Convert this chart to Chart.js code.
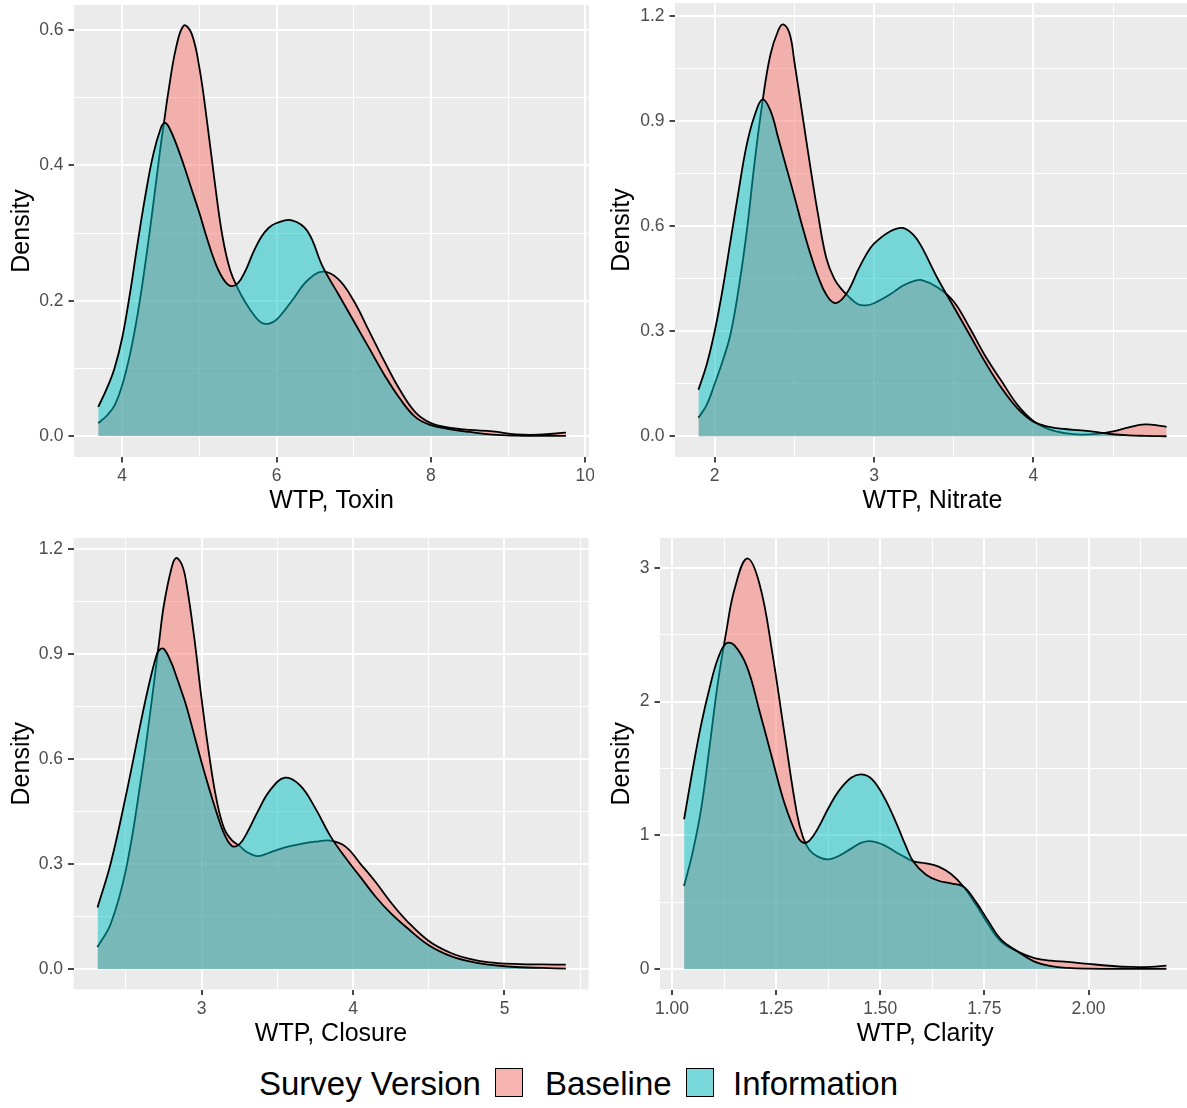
<!DOCTYPE html>
<html>
<head>
<meta charset="utf-8">
<script src="https://cdn.jsdelivr.net/npm/chart.js@4.4.1/dist/chart.umd.min.js"></script>
<style>
html,body{margin:0;padding:0;background:#fff;width:1187px;height:1108px;overflow:hidden;position:relative;font-family:"Liberation Sans",Arial,sans-serif}
canvas{position:absolute;display:block}
.lg{position:absolute;font-size:33px;line-height:33px;color:#000;white-space:nowrap}
.box{position:absolute;box-sizing:border-box;width:28px;height:29px;border:1.6px solid #000}
</style>
</head>
<body>
<canvas id="c1" width="594" height="525" style="left:0;top:0"></canvas>
<canvas id="c2" width="596" height="525" style="left:594px;top:0"></canvas>
<canvas id="c3" width="594" height="525" style="left:0;top:525px"></canvas>
<canvas id="c4" width="597" height="525" style="left:594px;top:525px"></canvas>

<div class="lg" style="left:259px;top:1066.5px">Survey Version</div>
<div class="box" style="left:495px;top:1068px;background:linear-gradient(rgba(248,118,109,0.5),rgba(248,118,109,0.5)),#F2F2F2"></div>
<div class="lg" style="left:545px;top:1066.5px">Baseline</div>
<div class="box" style="left:686px;top:1068px;background:linear-gradient(rgba(0,191,196,0.5),rgba(0,191,196,0.5)),#F2F2F2"></div>
<div class="lg" style="left:733px;top:1066.5px">Information</div>

<script>
// ---------- Toxin ----------
const toxinX = [3.69,3.8,3.9,4.0,4.1,4.2,4.3,4.4,4.5,4.55,4.6,4.7,4.8,4.9,5.0,5.1,5.2,5.3,5.4,5.5,5.6,5.7,5.8,5.9,6.0,6.2,6.4,6.6,6.8,7.0,7.2,7.4,7.6,7.8,8.0,8.2,8.5,8.8,9.1,9.4,9.75];
const toxinBaseline = [0.019,0.03,0.045,0.075,0.12,0.18,0.255,0.34,0.43,0.47,0.51,0.575,0.607,0.595,0.545,0.465,0.375,0.295,0.245,0.218,0.197,0.18,0.168,0.166,0.172,0.2,0.23,0.243,0.232,0.2,0.155,0.11,0.068,0.035,0.019,0.013,0.009,0.007,0.0025,0.002,0.005];
const toxinInformation = [0.043,0.07,0.1,0.145,0.21,0.285,0.355,0.415,0.455,0.463,0.458,0.432,0.4,0.365,0.33,0.292,0.258,0.234,0.222,0.226,0.245,0.272,0.294,0.308,0.315,0.319,0.303,0.25,0.21,0.17,0.13,0.09,0.055,0.028,0.016,0.011,0.006,0.002,0.0005,0.0002,0.0001];
const toxinXTicks = [4,6,8,10];
const toxinXTickLabels = ['4','6','8','10'];
const toxinXMinor = [5,7,9];
const toxinYTicks = [0,0.2,0.4,0.6];
const toxinYTickLabels = ['0.0','0.2','0.4','0.6'];
const toxinYMinor = [0.1,0.3,0.5];

// ---------- Nitrate ----------
const nitrateX = [1.898,1.95,2.0,2.05,2.1,2.15,2.2,2.25,2.3,2.35,2.4,2.43,2.47,2.5,2.55,2.6,2.65,2.7,2.75,2.8,2.85,2.9,2.95,3.0,3.1,3.18,3.25,3.3,3.4,3.5,3.6,3.7,3.8,3.9,4.0,4.1,4.2,4.3,4.4,4.5,4.6,4.7,4.8,4.836];
const nitrateBaseline = [0.053,0.09,0.15,0.215,0.293,0.42,0.58,0.78,0.955,1.09,1.16,1.176,1.15,1.07,0.92,0.77,0.63,0.51,0.45,0.418,0.395,0.377,0.374,0.38,0.405,0.43,0.443,0.446,0.425,0.385,0.31,0.228,0.158,0.09,0.044,0.02,0.009,0.005,0.007,0.014,0.026,0.034,0.03,0.027];
const nitrateInformation = [0.133,0.205,0.3,0.42,0.56,0.7,0.83,0.915,0.962,0.93,0.85,0.8,0.735,0.685,0.6,0.522,0.455,0.405,0.381,0.392,0.425,0.475,0.518,0.55,0.585,0.595,0.574,0.54,0.45,0.37,0.29,0.21,0.138,0.08,0.042,0.027,0.021,0.017,0.012,0.006,0.003,0.0015,0.0005,0.0003];
const nitrateXTicks = [2,3,4];
const nitrateXTickLabels = ['2','3','4'];
const nitrateXMinor = [2.5,3.5,4.5];
const nitrateYTicks = [0,0.3,0.6,0.9,1.2];
const nitrateYTickLabels = ['0.0','0.3','0.6','0.9','1.2'];
const nitrateYMinor = [0.15,0.45,0.75,1.05];

// ---------- Closure ----------
const closureX = [2.312,2.4,2.5,2.6,2.65,2.7,2.72,2.75,2.8,2.83,2.87,2.9,2.95,3.0,3.05,3.1,3.15,3.2,3.25,3.3,3.37,3.45,3.55,3.65,3.75,3.85,3.95,4.05,4.15,4.25,4.35,4.5,4.65,4.8,4.95,5.1,5.25,5.405];
const closureBaseline = [0.063,0.13,0.285,0.545,0.7,0.87,0.94,1.04,1.145,1.175,1.155,1.1,0.95,0.77,0.61,0.48,0.4,0.368,0.352,0.334,0.323,0.333,0.348,0.357,0.364,0.367,0.35,0.3,0.248,0.19,0.14,0.08,0.045,0.026,0.017,0.014,0.013,0.0125];
const closureInformation = [0.176,0.304,0.497,0.71,0.81,0.895,0.912,0.915,0.875,0.84,0.79,0.75,0.67,0.59,0.515,0.445,0.385,0.352,0.357,0.39,0.45,0.51,0.547,0.525,0.46,0.38,0.318,0.262,0.206,0.159,0.12,0.068,0.036,0.019,0.01,0.005,0.003,0.001];
const closureXTicks = [3,4,5];
const closureXTickLabels = ['3','4','5'];
const closureXMinor = [2.5,3.5,4.5,5.5];
const closureYTicks = [0,0.3,0.6,0.9,1.2];
const closureYTickLabels = ['0.0','0.3','0.6','0.9','1.2'];
const closureYMinor = [0.15,0.45,0.75,1.05];

// ---------- Clarity ----------
const clarityX = [1.029,1.05,1.07,1.09,1.11,1.13,1.15,1.18,1.21,1.24,1.27,1.30,1.315,1.33,1.35,1.375,1.40,1.43,1.455,1.48,1.51,1.54,1.56,1.58,1.61,1.64,1.67,1.70,1.73,1.76,1.79,1.83,1.87,1.91,1.95,2.0,2.05,2.1,2.15,2.187];
const clarityBaseline = [0.62,0.88,1.2,1.66,2.14,2.52,2.84,3.07,2.88,2.38,1.76,1.16,0.98,0.89,0.84,0.82,0.845,0.9,0.945,0.955,0.925,0.87,0.835,0.805,0.79,0.765,0.71,0.615,0.48,0.33,0.205,0.13,0.082,0.062,0.053,0.038,0.024,0.015,0.016,0.025];
const clarityInformation = [1.12,1.5,1.83,2.1,2.32,2.435,2.42,2.26,1.93,1.58,1.24,1.0,0.945,0.96,1.05,1.2,1.33,1.43,1.456,1.42,1.28,1.08,0.93,0.8,0.705,0.66,0.64,0.615,0.5,0.355,0.22,0.13,0.055,0.022,0.008,0.002,0.001,0.0005,0.0003,0.0002];
const clarityXTicks = [1.0,1.25,1.5,1.75,2.0];
const clarityXTickLabels = ['1.00','1.25','1.50','1.75','2.00'];
const clarityXMinor = [1.125,1.375,1.625,1.875,2.125];
const clarityYTicks = [0,1,2,3];
const clarityYTickLabels = ['0','1','2','3'];
const clarityYMinor = [0.5,1.5,2.5];

const seriesNames = ['Baseline','Information'];
const FONT = '"Liberation Sans", Arial, sans-serif';

const panelBg = {
  id: 'panelBg',
  beforeDraw(chart) {
    const {ctx, chartArea: a} = chart;
    ctx.save();
    ctx.fillStyle = '#EBEBEB';
    ctx.fillRect(a.left, a.top, a.right - a.left, a.bottom - a.top);
    ctx.restore();
  }
};

function axis(major, labels, minor, min, max, title, isX, size, titlePad) {
  const all = major.concat(minor).sort((a, b) => a - b);
  const isMajor = v => major.some(m => Math.abs(m - v) < 1e-9);
  return {
    type: 'linear',
    min: min, max: max,
    afterBuildTicks: s => { s.ticks = all.map(v => ({value: v})); },
    afterFit: s => {
      if (isX) s.height = size; else s.width = size;
      s.paddingTop = 0; s.paddingBottom = 0; s.paddingLeft = 0; s.paddingRight = 0;
    },
    ticks: {
      autoSkip: false, maxRotation: 0, minRotation: 0,
      padding: isX ? 3.5 : 5,
      color: '#4D4D4D',
      font: {family: FONT, size: 17.5},
      callback: v => { const i = major.findIndex(m => Math.abs(m - v) < 1e-9); return i >= 0 ? labels[i] : ''; }
    },
    grid: {
      color: '#FFFFFF',
      lineWidth: c => (c.tick && isMajor(c.tick.value)) ? 2 : 1,
      tickColor: c => (c.tick && isMajor(c.tick.value)) ? '#333333' : 'rgba(0,0,0,0)',
      tickLength: 5.5,
      tickWidth: 1.8,
      drawTicks: true
    },
    border: {display: false},
    title: {
      display: true, text: title, color: '#000000',
      font: {family: FONT, size: 25},
      padding: isX ? {top: 0, bottom: titlePad} : {top: titlePad, bottom: 0}
    }
  };
}

function makePanel(id, p) {
  const ds = (name, ys, color, order) => ({
    label: name,
    data: p.x.map((x, i) => ({x: x, y: ys[i]})),
    borderColor: '#000000',
    borderWidth: 1.8,
    backgroundColor: color,
    fill: 'origin',
    pointRadius: 0,
    pointHoverRadius: 0,
    tension: 0.4,
    order: order
  });
  new Chart(document.getElementById(id), {
    type: 'line',
    data: {
      datasets: [
        ds(seriesNames[0], p.base, 'rgba(248,118,109,0.5)', 2),
        ds(seriesNames[1], p.info, 'rgba(0,191,196,0.5)', 1)
      ]
    },
    options: {
      responsive: false,
      animation: false,
      devicePixelRatio: 1,
      layout: {padding: {left: 0, top: p.padTop, right: p.padRight, bottom: 0}},
      plugins: {
        legend: {display: false},
        tooltip: {enabled: false},
        filler: {drawTime: 'beforeDatasetDraw'}
      },
      scales: {
        x: axis(p.xt, p.xl, p.xm, p.xmin, p.xmax, p.xtitle, true, p.xH, p.xTitlePad),
        y: axis(p.yt, p.yl, p.ym, p.ymin, p.ymax, 'Density', false, p.yW, p.yTitlePad)
      }
    },
    plugins: [panelBg]
  });
}

makePanel('c1', {x: toxinX, base: toxinBaseline, info: toxinInformation,
  xt: toxinXTicks, xl: toxinXTickLabels, xm: toxinXMinor, xmin: 3.376, xmax: 10.049,
  yt: toxinYTicks, yl: toxinYTickLabels, ym: toxinYMinor, ymin: -0.031, ymax: 0.6373,
  xtitle: 'WTP, Toxin', padTop: 5, padRight: 5, xH: 68, yW: 74, xTitlePad: 8.5, yTitlePad: 7.5});

makePanel('c2', {x: nitrateX, base: nitrateBaseline, info: nitrateInformation,
  xt: nitrateXTicks, xl: nitrateXTickLabels, xm: nitrateXMinor, xmin: 1.751, xmax: 4.983,
  yt: nitrateYTicks, yl: nitrateYTickLabels, ym: nitrateYMinor, ymin: -0.0589, ymax: 1.237,
  xtitle: 'WTP, Nitrate', padTop: 3, padRight: 0, xH: 68, yW: 81, xTitlePad: 8.5, yTitlePad: 13.6});

makePanel('c3', {x: closureX, base: closureBaseline, info: closureInformation,
  xt: closureXTicks, xl: closureXTickLabels, xm: closureXMinor, xmin: 2.1533, xmax: 5.5555,
  yt: closureYTicks, yl: closureYTickLabels, ym: closureYMinor, ymin: -0.0586, ymax: 1.2323,
  xtitle: 'WTP, Closure', padTop: 13, padRight: 5.4, xH: 60.5, yW: 73.5, xTitlePad: 1, yTitlePad: 7.5});

makePanel('c4', {x: clarityX, base: clarityBaseline, info: clarityInformation,
  xt: clarityXTicks, xl: clarityXTickLabels, xm: clarityXMinor, xmin: 0.9711, xmax: 2.2449,
  yt: clarityYTicks, yl: clarityYTickLabels, ym: clarityYMinor, ymin: -0.1535, ymax: 3.2235,
  xtitle: 'WTP, Clarity', padTop: 13, padRight: 0.5, xH: 60.5, yW: 66, xTitlePad: 1, yTitlePad: 13.6});
</script>
</body>
</html>
